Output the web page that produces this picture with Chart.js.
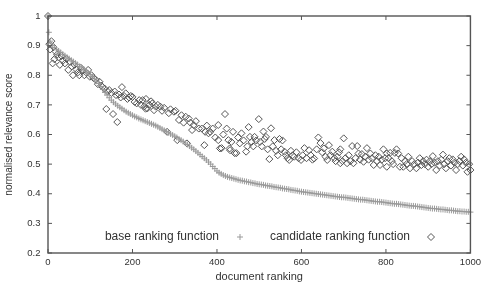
<!DOCTYPE html>
<html>
<head>
<meta charset="utf-8">
<script src="https://cdn.jsdelivr.net/npm/chart.js@4/dist/chart.umd.min.js"></script>
<style>
    html, body { margin: 0; padding: 0; background: #fff; }
    #chart { display: block; }
</style>
</head>
<body>
<canvas id="chart" width="485" height="282"></canvas>
<script>
// ---- Data ----

const xTickValues = [0, 200, 400, 600, 800, 1000];
const xTickLabels = ['0', '200', '400', '600', '800', '1000'];
const yTickValues = [0.2, 0.3, 0.4, 0.5, 0.6, 0.7, 0.8, 0.9, 1];
const yTickLabels = ['0.2', '0.3', '0.4', '0.5', '0.6', '0.7', '0.8', '0.9', '1'];

const seriesLabels = ['base ranking function', 'candidate ranking function'];

// base ranking function (+), one mark every 5 documents
const baseRank = [
    0, 2, 5, 10, 15, 20, 25, 30, 35, 40, 45, 50, 55, 60, 65, 70, 75, 80, 85, 90, 95, 100,
    105, 110, 115, 120, 125, 130, 135, 140, 145, 150, 155, 160, 165, 170, 175, 180, 185, 190, 195, 200,
    205, 210, 215, 220, 225, 230, 235, 240, 245, 250, 255, 260, 265, 270, 275, 280, 285, 290, 295, 300,
    305, 310, 315, 320, 325, 330, 335, 340, 345, 350, 355, 360, 365, 370, 375, 380, 385, 390, 395, 400,
    405, 410, 415, 420, 425, 430, 435, 440, 445, 450, 455, 460, 465, 470, 475, 480, 485, 490, 495, 500,
    505, 510, 515, 520, 525, 530, 535, 540, 545, 550, 555, 560, 565, 570, 575, 580, 585, 590, 595, 600,
    605, 610, 615, 620, 625, 630, 635, 640, 645, 650, 655, 660, 665, 670, 675, 680, 685, 690, 695, 700,
    705, 710, 715, 720, 725, 730, 735, 740, 745, 750, 755, 760, 765, 770, 775, 780, 785, 790, 795, 800,
    805, 810, 815, 820, 825, 830, 835, 840, 845, 850, 855, 860, 865, 870, 875, 880, 885, 890, 895, 900,
    905, 910, 915, 920, 925, 930, 935, 940, 945, 950, 955, 960, 965, 970, 975, 980, 985, 990, 995, 1000
];
const baseScore = [
    1.0, 0.945, 0.915, 0.900, 0.894, 0.888, 0.882, 0.877, 0.871, 0.866, 0.861, 0.856, 0.851, 0.846, 0.841, 0.836, 0.830, 0.825, 0.820, 0.814, 0.808, 0.802,
    0.795, 0.788, 0.780, 0.772, 0.762, 0.752, 0.742, 0.733, 0.724, 0.716, 0.709, 0.703, 0.697, 0.692, 0.687, 0.682, 0.677, 0.673, 0.669, 0.665,
    0.661, 0.658, 0.654, 0.651, 0.648, 0.645, 0.642, 0.639, 0.636, 0.633, 0.630, 0.626, 0.622, 0.618, 0.614, 0.610, 0.606, 0.602, 0.598, 0.594,
    0.590, 0.585, 0.581, 0.576, 0.571, 0.566, 0.561, 0.555, 0.550, 0.544, 0.538, 0.532, 0.526, 0.520, 0.514, 0.507, 0.500, 0.492, 0.485, 0.477,
    0.471, 0.467, 0.463, 0.460, 0.457, 0.455, 0.453, 0.451, 0.449, 0.447, 0.445, 0.444, 0.442, 0.441, 0.439, 0.438, 0.436, 0.435, 0.433, 0.432,
    0.431, 0.430, 0.428, 0.427, 0.426, 0.425, 0.423, 0.422, 0.421, 0.420, 0.418, 0.417, 0.416, 0.415, 0.413, 0.412, 0.411, 0.410, 0.408, 0.407,
    0.406, 0.405, 0.404, 0.403, 0.402, 0.401, 0.400, 0.399, 0.398, 0.397, 0.396, 0.395, 0.394, 0.393, 0.392, 0.391, 0.390, 0.389, 0.388, 0.388,
    0.387, 0.386, 0.385, 0.384, 0.383, 0.382, 0.381, 0.380, 0.380, 0.379, 0.378, 0.377, 0.376, 0.375, 0.374, 0.373, 0.373, 0.372, 0.371, 0.370,
    0.369, 0.368, 0.367, 0.366, 0.366, 0.365, 0.364, 0.363, 0.362, 0.361, 0.360, 0.359, 0.359, 0.358, 0.357, 0.356, 0.355, 0.354, 0.353, 0.352,
    0.351, 0.350, 0.350, 0.349, 0.348, 0.347, 0.347, 0.346, 0.345, 0.344, 0.344, 0.343, 0.342, 0.341, 0.341, 0.340, 0.340, 0.339, 0.339, 0.338
];

// candidate ranking function (diamonds)
const candRank = [
    0, 3, 5, 8, 11, 13, 15, 18, 22, 25, 28, 32, 36, 40, 44, 48, 52, 56, 59, 63,
    67, 71, 74, 78, 82, 86, 90, 95, 99, 103, 108, 113, 118, 122, 126, 129, 134, 138, 141, 145,
    150, 154, 158, 161, 164, 168, 172, 175, 180, 184, 188, 192, 196, 200, 205, 210, 216, 220, 224, 228,
    231, 232, 235, 240, 244, 247, 251, 255, 260, 266, 270, 275, 282, 286, 290, 298, 302, 306, 310, 316,
    321, 326, 329, 333, 337, 341, 345, 350, 357, 364, 370, 372, 376, 380, 384, 390, 396, 403, 403, 407,
    411, 415, 419, 423, 427, 430, 431, 434, 438, 442, 446, 450, 454, 458, 463, 469, 472, 475, 478, 482,
    486, 489, 493, 499, 502, 506, 510, 513, 516, 520, 524, 528, 532, 536, 540, 544, 548, 552, 555, 560,
    563, 567, 571, 575, 579, 583, 588, 593, 599, 603, 607, 612, 618, 622, 626, 630, 636, 640, 645, 649,
    653, 657, 661, 665, 669, 673, 678, 681, 685, 689, 692, 692, 697, 700, 704, 708, 712, 716, 720, 723,
    728, 732, 735, 739, 743, 747, 751, 755, 759, 763, 767, 771, 775, 779, 783, 786, 790, 794, 798, 802,
    802, 806, 810, 814, 817, 821, 825, 829, 833, 837, 841, 845, 849, 853, 857, 862, 867, 872, 876, 880,
    884, 888, 892, 896, 900, 904, 908, 911, 915, 919, 923, 927, 931, 935, 938, 942, 946, 950, 954, 958,
    962, 966, 970, 974, 978, 982, 985, 989, 993, 997, 1000
];
const candScore = [
    1.0, 0.905, 0.887, 0.915, 0.84, 0.895, 0.854, 0.88, 0.87, 0.86, 0.835, 0.865, 0.85, 0.84, 0.855, 0.818, 0.845, 0.83, 0.80, 0.835,
    0.82, 0.81, 0.80, 0.825, 0.815, 0.80, 0.81, 0.818, 0.795, 0.80, 0.79, 0.785, 0.77, 0.778, 0.765, 0.76, 0.755, 0.686, 0.745, 0.75,
    0.74, 0.669, 0.745, 0.733, 0.642, 0.735, 0.725, 0.76, 0.73, 0.739, 0.72, 0.725, 0.73, 0.727, 0.71, 0.705, 0.716, 0.70, 0.716, 0.695,
    0.687, 0.72, 0.688, 0.70, 0.712, 0.705, 0.682, 0.694, 0.70, 0.694, 0.68, 0.69, 0.609, 0.672, 0.685, 0.677, 0.68, 0.581, 0.649, 0.665,
    0.64, 0.66, 0.57, 0.654, 0.64, 0.615, 0.632, 0.645, 0.62, 0.62, 0.564, 0.609, 0.63, 0.604, 0.609, 0.62, 0.59, 0.632, 0.581, 0.553,
    0.554, 0.60, 0.669, 0.62, 0.581, 0.553, 0.547, 0.575, 0.609, 0.537, 0.537, 0.59, 0.57, 0.604, 0.58, 0.542, 0.56, 0.625, 0.592, 0.575,
    0.56, 0.592, 0.58, 0.652, 0.575, 0.56, 0.61, 0.585, 0.592, 0.55, 0.517, 0.621, 0.56, 0.581, 0.545, 0.53, 0.585, 0.55, 0.58, 0.542,
    0.53, 0.52, 0.514, 0.545, 0.53, 0.525, 0.54, 0.52, 0.514, 0.53, 0.554, 0.52, 0.547, 0.53, 0.515, 0.519, 0.55, 0.59, 0.571, 0.54,
    0.553, 0.525, 0.514, 0.564, 0.53, 0.542, 0.52, 0.51, 0.525, 0.54, 0.503, 0.55, 0.51, 0.587, 0.52, 0.503, 0.53, 0.51, 0.561, 0.503,
    0.52, 0.561, 0.536, 0.515, 0.534, 0.508, 0.525, 0.554, 0.515, 0.536, 0.52, 0.497, 0.53, 0.51, 0.525, 0.497, 0.515, 0.55, 0.52, 0.536,
    0.491, 0.52, 0.538, 0.51, 0.50, 0.538, 0.55, 0.536, 0.491, 0.52, 0.491, 0.51, 0.50, 0.525, 0.486, 0.51, 0.50, 0.486, 0.505, 0.52,
    0.497, 0.51, 0.50, 0.515, 0.491, 0.51, 0.50, 0.527, 0.505, 0.48, 0.51, 0.495, 0.515, 0.532, 0.50, 0.486, 0.51, 0.52, 0.495, 0.516,
    0.505, 0.48, 0.50, 0.51, 0.525, 0.495, 0.516, 0.505, 0.474, 0.50, 0.48
];

// ---- Styles ----

const TEXT_COLOR = '#333';
const AXIS_COLOR = '#555';
const BASE_COLOR = '#9a9a9a';
const CAND_COLOR = '#555';
const FONT = '"Liberation Sans", Arial, Helvetica, sans-serif';

function toPoints(xs, ys) {
    return xs.map((x, i) => ({ x: x, y: ys[i] }));
}

// gnuplot-like frame: box round the plot area with inward ticks on all four sides
const framePlugin = {
    id: 'frame',
    afterDatasetsDraw(chart) {
        const { ctx, chartArea: a, scales } = chart;
        const len = 4;
        ctx.save();
        ctx.strokeStyle = AXIS_COLOR;
        ctx.lineWidth = 1.4;
        ctx.strokeRect(a.left, a.top, a.right - a.left, a.bottom - a.top);
        ctx.lineWidth = 1;
        ctx.beginPath();
        for (const v of xTickValues) {
            const px = scales.x.getPixelForValue(v);
            ctx.moveTo(px, a.bottom); ctx.lineTo(px, a.bottom - len);
            ctx.moveTo(px, a.top); ctx.lineTo(px, a.top + len);
        }
        for (const v of yTickValues) {
            const py = scales.y.getPixelForValue(v);
            ctx.moveTo(a.left, py); ctx.lineTo(a.left + len, py);
            ctx.moveTo(a.right, py); ctx.lineTo(a.right - len, py);
        }
        ctx.stroke();
        ctx.restore();
    }
};

// key inside the plot, text first and the sample mark after it
const keyPlugin = {
    id: 'key',
    afterDraw(chart) {
        const { ctx } = chart;
        const y = 237;
        const items = [
            { textRight: 219, markX: 240, ds: chart.data.datasets[0] },
            { textRight: 410, markX: 431, ds: chart.data.datasets[1] }
        ];
        ctx.save();
        ctx.font = '12px ' + FONT;
        ctx.textAlign = 'right';
        ctx.textBaseline = 'middle';
        for (const it of items) {
            ctx.fillStyle = TEXT_COLOR;
            ctx.fillText(it.ds.label, it.textRight, y);
            ctx.strokeStyle = it.ds.borderColor;
            ctx.fillStyle = 'rgba(0,0,0,0)';
            ctx.lineWidth = 1;
            Chart.helpers.drawPoint(ctx, {
                pointStyle: it.ds.pointStyle,
                radius: it.ds.pointRadius,
                rotation: 0,
                borderWidth: 1
            }, it.markX, y);
        }
        ctx.restore();
    }
};

const ctx = document.getElementById('chart').getContext('2d');
new Chart(ctx, {
    type: 'scatter',
    data: {
        datasets: [
            {
                label: seriesLabels[0],
                data: toPoints(baseRank, baseScore),
                pointStyle: 'cross',
                pointRadius: 3,
                borderColor: BASE_COLOR,
                backgroundColor: BASE_COLOR,
                borderWidth: 1,
                clip: false
            },
            {
                label: seriesLabels[1],
                data: toPoints(candRank, candScore),
                pointStyle: 'rectRot',
                pointRadius: 3.5,
                borderColor: CAND_COLOR,
                backgroundColor: 'rgba(0,0,0,0)',
                borderWidth: 1,
                clip: false
            }
        ]
    },
    options: {
        responsive: false,
        animation: false,
        layout: { padding: { left: 0, top: 16, right: 11, bottom: 0 } },
        plugins: {
            legend: { display: false },
            tooltip: { enabled: false }
        },
        scales: {
            x: {
                type: 'linear',
                min: 0,
                max: 1000,
                afterBuildTicks: s => { s.ticks = xTickValues.map(v => ({ value: v })); },
                afterFit: s => { s.height = 29; },
                grid: { display: false, drawTicks: false },
                border: { display: false },
                ticks: {
                    padding: 4,
                    color: TEXT_COLOR,
                    font: { family: FONT, size: 9.5 },
                    maxRotation: 0,
                    callback: (v, i) => xTickLabels[i]
                },
                title: {
                    display: true,
                    text: 'document ranking',
                    color: TEXT_COLOR,
                    font: { family: FONT, size: 11, lineHeight: 1 },
                    padding: 0
                }
            },
            y: {
                type: 'linear',
                min: 0.2,
                max: 1,
                afterBuildTicks: s => { s.ticks = yTickValues.map(v => ({ value: v })); },
                afterFit: s => { s.width = 48; },
                grid: { display: false, drawTicks: false },
                border: { display: false },
                ticks: {
                    padding: 7.5,
                    color: TEXT_COLOR,
                    font: { family: FONT, size: 9.5 },
                    callback: (v, i) => yTickLabels[i]
                },
                title: {
                    display: true,
                    text: 'normalised relevance score',
                    color: TEXT_COLOR,
                    font: { family: FONT, size: 10, lineHeight: 1 },
                    padding: { top: 4, bottom: 0 }
                }
            }
        }
    },
    plugins: [framePlugin, keyPlugin]
});
</script>
</body>
</html>
